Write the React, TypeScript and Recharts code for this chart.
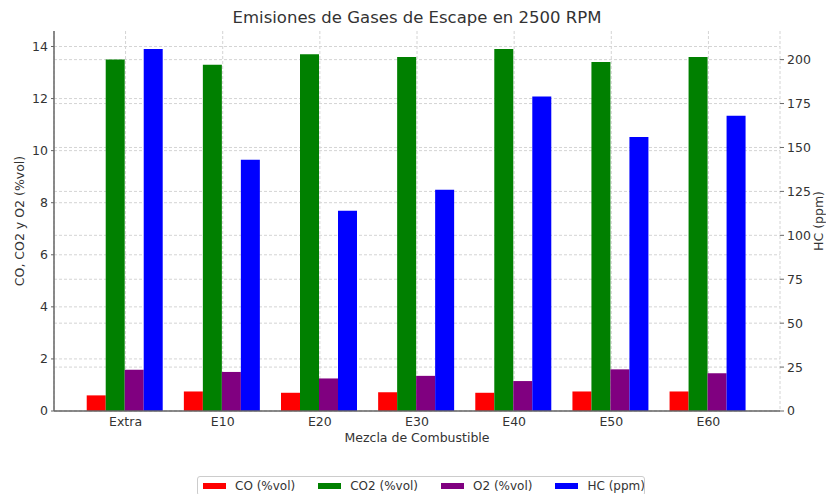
import { Bar, BarChart, CartesianGrid, Label, XAxis, YAxis } from "recharts";

const categories = ["Extra", "E10", "E20", "E30", "E40", "E50", "E60"];
const coValues = [0.6, 0.75, 0.7, 0.72, 0.7, 0.75, 0.75];
const co2Values = [13.5, 13.3, 13.7, 13.6, 13.9, 13.4, 13.6];
const o2Values = [1.58, 1.5, 1.25, 1.35, 1.15, 1.6, 1.45];
const hcValues = [206, 143, 114, 126, 179, 156, 168];

const leftTicks = [0, 2, 4, 6, 8, 10, 12, 14];
const rightTicks = [0, 25, 50, 75, 100, 125, 150, 175, 200];

const seriesInfo = [
  { key: "co", name: "CO (%vol)", color: "#ff0000", axis: "left" },
  { key: "co2", name: "CO2 (%vol)", color: "#008000", axis: "left" },
  { key: "o2", name: "O2 (%vol)", color: "#800080", axis: "left" },
  { key: "hc", name: "HC (ppm)", color: "#0000ff", axis: "right" },
];

const rows = categories.map((name, i) => ({
  name,
  co: coValues[i],
  co2: co2Values[i],
  o2: o2Values[i],
  hc: hcValues[i],
}));

const FONT = "DejaVu Sans, Verdana, sans-serif";
const tickStyle = { fontSize: 12.5, fill: "#333", fontFamily: FONT };
const gridColor = "#d4d4d4";

// rotated axis title, placed relative to the plot area
function YLabel({ viewBox, value, x }: any) {
  const cy = viewBox.y + viewBox.height / 2;
  return (
    <text
      x={x}
      y={cy}
      transform={`rotate(-90 ${x} ${cy})`}
      textAnchor="middle"
      dominantBaseline="central"
      fontSize={12.5}
      fill="#333"
      fontFamily={FONT}
    >
      {value}
    </text>
  );
}

export default function App() {
  return (
    <div style={{ position: "absolute", left: 0, top: 0, width: 826, height: 494, background: "#fff", fontFamily: FONT }}>
      <div
        style={{
          position: "absolute",
          left: 54,
          width: 726,
          top: 8,
          textAlign: "center",
          fontSize: 16.5,
          color: "#333",
          lineHeight: "20px",
        }}
      >
        Emisiones de Gases de Escape en 2500 RPM
      </div>
      <BarChart
        width={826}
        height={494}
        data={rows}
        margin={{ top: 31, right: 6, bottom: 53, left: 14 }}
        barCategoryGap="10%"
        barGap={0}
      >
        <CartesianGrid yAxisId="left" stroke={gridColor} strokeDasharray="3 2" horizontalValues={leftTicks} />
        <CartesianGrid yAxisId="right" stroke={gridColor} strokeDasharray="3 2" vertical={false} horizontalValues={rightTicks} />
        <XAxis
          dataKey="name"
          height={30}
          padding={{ left: 23, right: 23 }}
          tick={tickStyle}
          tickLine={false}
          tickSize={3}
          tickMargin={3}
          axisLine={{ stroke: "#666", strokeWidth: 1.5 }}
        >
          <Label
            content={({ viewBox }: any) => (
              <text
                x={viewBox.x + viewBox.width / 2}
                y={viewBox.y + 26}
                textAnchor="middle"
                dominantBaseline="central"
                fontSize={12.5}
                fill="#333"
                fontFamily={FONT}
              >
                Mezcla de Combustible
              </text>
            )}
          />
        </XAxis>
        <YAxis
          yAxisId="left"
          width={40}
          domain={[0, 14.595]}
          ticks={leftTicks}
          tick={tickStyle}
          tickSize={3}
          tickMargin={3}
          tickLine={{ stroke: "#666" }}
          axisLine={{ stroke: "#666", strokeWidth: 1.5 }}
        >
          <Label content={(p: any) => <YLabel {...p} value="CO, CO2 y O2 (%vol)" x={19} />} />
        </YAxis>
        <YAxis
          yAxisId="right"
          orientation="right"
          width={40}
          domain={[0, 216.3]}
          ticks={rightTicks}
          tick={tickStyle}
          tickSize={4}
          tickMargin={3}
          tickLine={{ stroke: "#666" }}
          axisLine={false}
        >
          <Label content={(p: any) => <YLabel {...p} value="HC (ppm)" x={818} />} />
        </YAxis>
        {seriesInfo.map((s) => (
          <Bar
            key={s.key}
            dataKey={s.key}
            name={s.name}
            yAxisId={s.axis}
            fill={s.color}
            isAnimationActive={false}
          />
        ))}
      </BarChart>
      <div
        style={{
          position: "absolute",
          left: 197,
          top: 476,
          width: 448,
          height: 20,
          border: "1px solid #ccc",
          borderRadius: 3,
          boxSizing: "border-box",
          display: "flex",
          alignItems: "center",
          paddingLeft: 5,
          fontSize: 12,
          color: "#333",
          whiteSpace: "nowrap",
          overflow: "hidden",
        }}
      >
        {seriesInfo.map((s) => (
          <div key={s.key} style={{ display: "flex", alignItems: "center", flexShrink: 0, marginRight: 23 }}>
            <span style={{ display: "inline-block", width: 23, height: 6, background: s.color, marginRight: 9 }} />
            <span>{s.name}</span>
          </div>
        ))}
      </div>
    </div>
  );
}
